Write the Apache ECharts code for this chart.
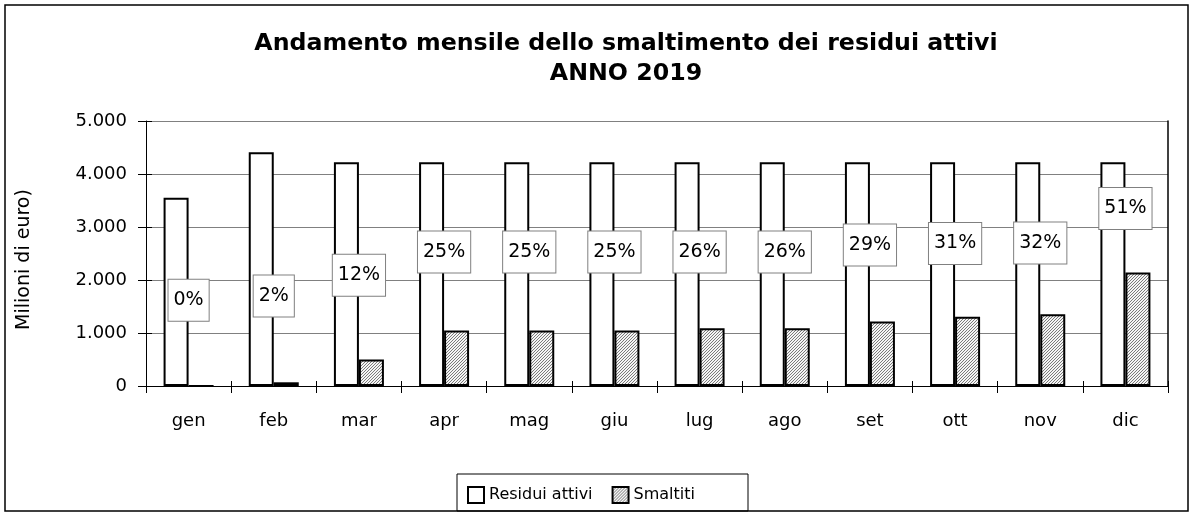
<!DOCTYPE html>
<html>
<head>
<meta charset="utf-8">
<script src="https://cdn.jsdelivr.net/npm/echarts@6/dist/echarts.min.js"></script>
<style>html,body{margin:0;padding:0;background:#fff;}#c{width:1193px;height:514px;}</style>
</head>
<body>
<div id="c"></div>
<script>
const months = ['gen','feb','mar','apr','mag','giu','lug','ago','set','ott','nov','dic'];
const residuiAttivi = [3550, 4410, 4220, 4220, 4220, 4220, 4220, 4220, 4220, 4220, 4220, 4220];
const smaltiti = [0, 70, 500, 1045, 1045, 1045, 1090, 1090, 1215, 1305, 1355, 2140];
const pctLabels = ['0%','2%','12%','25%','25%','25%','26%','26%','29%','31%','32%','51%'];
const pctLabelPos = [1620, 1700, 2090, 2530, 2530, 2530, 2530, 2530, 2660, 2690, 2700, 3350];
const yTickLabels = ['0','1.000','2.000','3.000','4.000','5.000'];

const pc = document.createElement('canvas');
pc.width = 3; pc.height = 3;
const g = pc.getContext('2d');
for (let x = 0; x < 3; x++) for (let y = 0; y < 3; y++) {
  g.fillStyle = ((x + y) % 3 === 0) ? '#7a7a7a' : '#f4f4f4';
  g.fillRect(x, y, 1, 1);
}
const hatch = { image: pc, repeat: 'repeat' };

const FONT = 'DejaVu Sans';
const chart = echarts.init(document.getElementById('c'), null, { renderer: 'canvas' });
chart.setOption({
  animation: false,
  backgroundColor: '#fff',
  title: {
    text: 'Andamento mensile dello smaltimento dei residui attivi\nANNO 2019',
    left: 621, top: 24, textAlign: 'center',
    textStyle: { fontFamily: FONT, fontWeight: 'bold', fontSize: 23.7, lineHeight: 30, color: '#000' }
  },
  legend: {
    left: 467, top: 486, padding: 0, itemWidth: 16, itemHeight: 16, itemGap: 19, icon: 'rect',
    data: ['Residui attivi', 'Smaltiti'],
    textStyle: { fontFamily: FONT, fontSize: 16, color: '#000' }
  },
  grid: { left: 146, right: 25, top: 121, bottom: 128 },
  xAxis: [
    { type: 'category', data: months, position: 'bottom',
      axisLine: { lineStyle: { color: '#000', width: 1 } },
      axisTick: { show: true, inside: false, length: 7, lineStyle: { color: '#000' } },
      axisLabel: { fontFamily: FONT, fontSize: 18, color: '#000', margin: 26 } },
    { type: 'category', data: months, position: 'bottom',
      axisLine: { show: false },
      axisTick: { show: true, inside: true, length: 5, lineStyle: { color: '#000' } },
      axisLabel: { show: false } }
  ],
  yAxis: [
    { type: 'value', min: 0, max: 5000, interval: 1000, position: 'left',
      name: 'Milioni di euro)', nameLocation: 'middle', nameRotate: 90, nameGap: 112,
      nameTextStyle: { fontFamily: FONT, fontSize: 19, color: '#000', padding: [0, 12, 0, 0] },
      axisLine: { show: true, lineStyle: { color: '#000', width: 1 } },
      axisTick: { show: true, inside: false, length: 8, lineStyle: { color: '#000' } },
      splitLine: { show: true, lineStyle: { color: '#808080', width: 1 } },
      axisLabel: { fontFamily: FONT, fontSize: 18, color: '#000', margin: 19,
        formatter: v => yTickLabels[Math.round(v / 1000)] } },
    { type: 'value', min: 0, max: 5000, interval: 1000, position: 'left',
      axisLine: { show: false },
      axisTick: { show: true, inside: true, length: 6, lineStyle: { color: '#000' } },
      splitLine: { show: false }, axisLabel: { show: false } },
    { type: 'value', min: 0, max: 5000, interval: 1000, position: 'right',
      axisLine: { show: true, lineStyle: { color: '#000', width: 1.5 } },
      axisTick: { show: false }, splitLine: { show: false }, axisLabel: { show: false } }
  ],
  series: [
    { name: 'Residui attivi', type: 'bar', data: residuiAttivi, barWidth: 25, barGap: '0%',
      itemStyle: { color: '#fff', borderColor: '#000', borderWidth: 2 } },
    { name: 'Smaltiti', type: 'bar', data: smaltiti, barWidth: 25, barGap: '0%',
      itemStyle: { color: hatch, borderColor: '#000', borderWidth: 2 } },
    { name: 'pct', type: 'scatter', data: pctLabelPos, symbolSize: 0, silent: true, z: 10,
      itemStyle: { color: '#fff', opacity: 1 },
      label: { show: true, position: 'inside', formatter: p => pctLabels[p.dataIndex],
        fontFamily: FONT, fontSize: 19, lineHeight: 23, color: '#000', opacity: 1,
        backgroundColor: '#fff', borderColor: '#808080', borderWidth: 1, padding: [9, 5] } }
  ],
  graphic: [
    { type: 'rect', shape: { x: 5, y: 5, width: 1183, height: 506 }, silent: true, z: -1,
      style: { fill: 'none', stroke: '#000', lineWidth: 1.5 } },
    { type: 'rect', shape: { x: 457, y: 474, width: 291, height: 37 }, silent: true,
      style: { fill: 'none', stroke: '#000', lineWidth: 1 } }
  ]
});
</script>
</body>
</html>
